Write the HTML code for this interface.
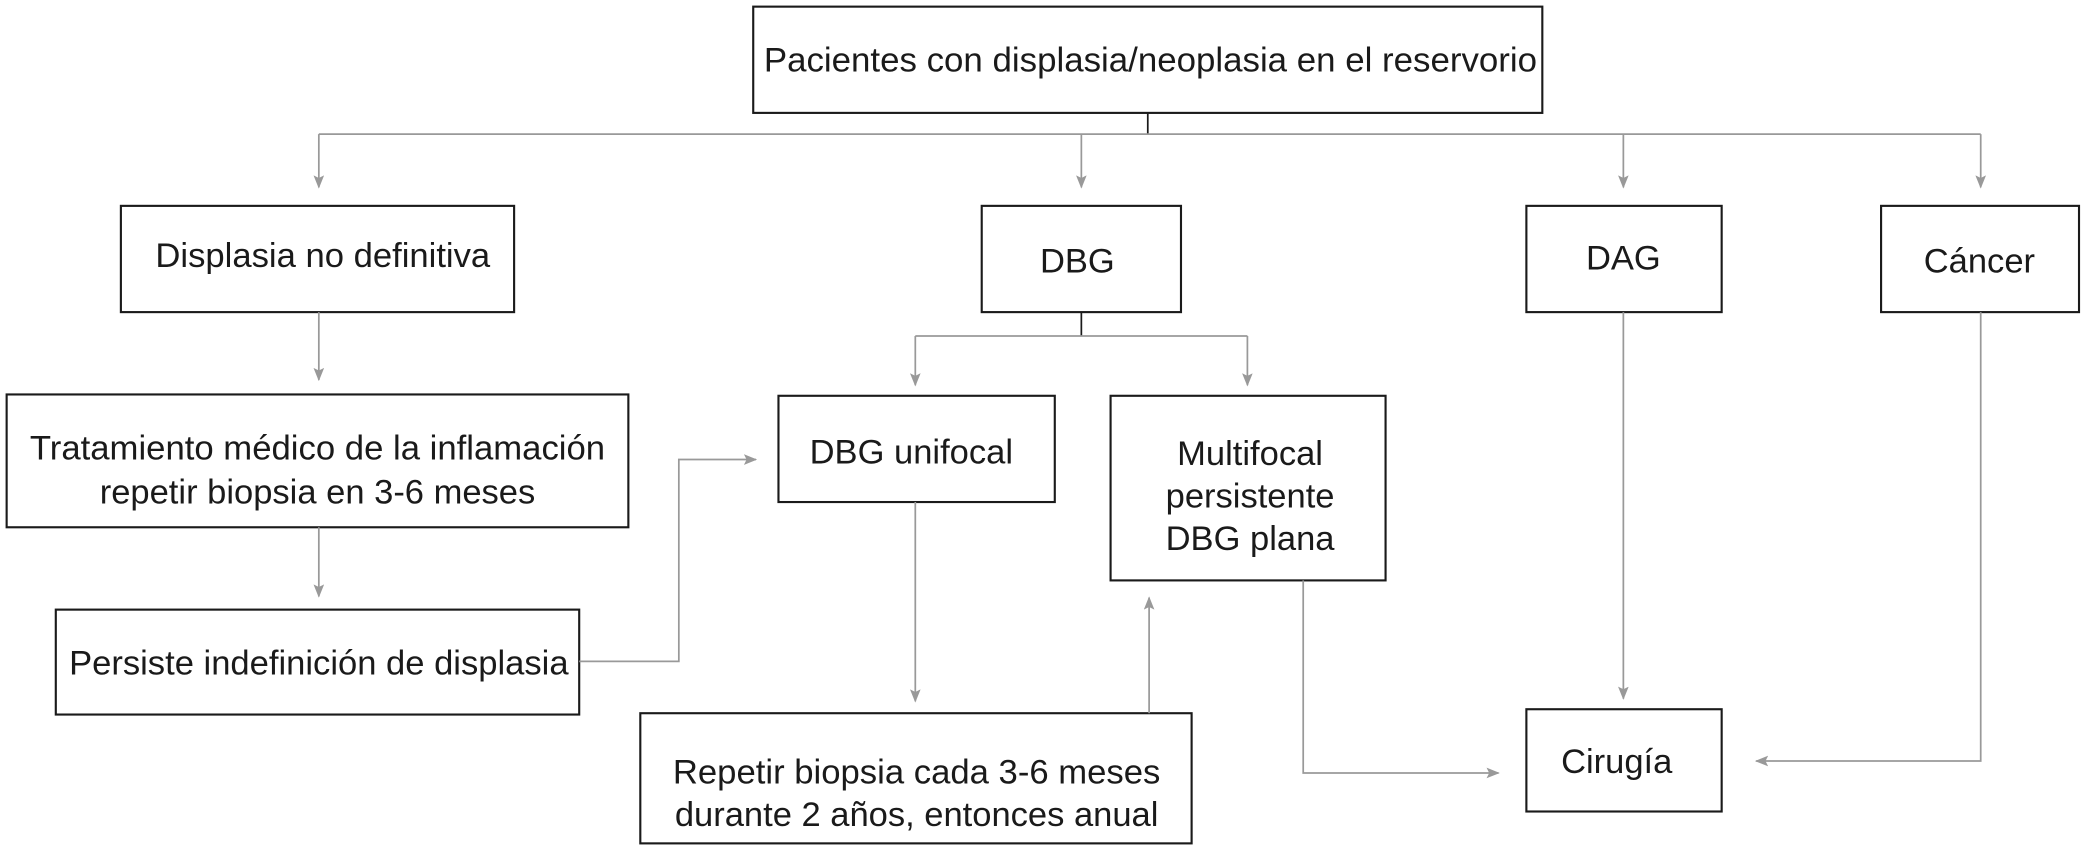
<!DOCTYPE html>
<html><head><meta charset="utf-8"><style>
html,body{margin:0;padding:0;background:#fff;}
svg{display:block;}
text{font-family:"Liberation Sans",sans-serif;font-size:26px;fill:#1a1a1a;text-anchor:middle;}
.b{fill:none;stroke:#1a1a1a;stroke-width:1.6;}
.l{fill:none;stroke:#999;stroke-width:1.3;}
.a{fill:#999;}
</style></head><body>
<svg width="2083" height="854" viewBox="0 0 1568 643" preserveAspectRatio="none">
<defs><marker id="m" markerWidth="10" markerHeight="8" refX="9" refY="4" orient="auto" markerUnits="userSpaceOnUse"><path d="M0,0 L10,4 L0,8 L2,4 Z" class="a"/></marker></defs>
<rect class="b" x="567" y="5" width="594" height="80"/>
<text x="866" y="54" textLength="582" lengthAdjust="spacingAndGlyphs">Pacientes con displasia/neoplasia en el reservorio</text>
<rect class="b" x="91" y="155" width="296" height="80"/>
<text x="243" y="201" textLength="252" lengthAdjust="spacingAndGlyphs">Displasia no definitiva</text>
<rect class="b" x="739" y="155" width="150" height="80"/>
<text x="811" y="205">DBG</text>
<rect class="b" x="1149" y="155" width="147" height="80"/>
<text x="1222" y="203">DAG</text>
<rect class="b" x="1416" y="155" width="149" height="80"/>
<text x="1490" y="205">Cáncer</text>
<rect class="b" x="5" y="297" width="468" height="100"/>
<text x="239" y="346" textLength="433" lengthAdjust="spacingAndGlyphs">Tratamiento médico de la inflamación</text>
<text x="239" y="379">repetir biopsia en 3-6 meses</text>
<rect class="b" x="42" y="459" width="394" height="79"/>
<text x="240" y="508" textLength="376" lengthAdjust="spacingAndGlyphs">Persiste indefinición de displasia</text>
<rect class="b" x="586" y="298" width="208" height="80"/>
<text x="686" y="349">DBG unifocal</text>
<rect class="b" x="836" y="298" width="207" height="139"/>
<text x="941" y="350">Multifocal</text>
<text x="941" y="382">persistente</text>
<text x="941" y="414">DBG plana</text>
<rect class="b" x="482" y="537" width="415" height="98"/>
<text x="690" y="590" textLength="367" lengthAdjust="spacingAndGlyphs">Repetir biopsia cada 3-6 meses</text>
<text x="690" y="622" textLength="364" lengthAdjust="spacingAndGlyphs">durante 2 años, entonces anual</text>
<rect class="b" x="1149" y="534" width="147" height="77"/>
<text x="1217" y="582">Cirugía</text>
<line x1="864" y1="85" x2="864" y2="101" stroke="#1a1a1a" stroke-width="1.3"/>
<polyline class="l" points="240,101 1491,101"/>
<line class="l" x1="240" y1="101" x2="240" y2="141" marker-end="url(#m)"/>
<line class="l" x1="814" y1="101" x2="814" y2="141" marker-end="url(#m)"/>
<line class="l" x1="1222" y1="101" x2="1222" y2="141" marker-end="url(#m)"/>
<line class="l" x1="1491" y1="101" x2="1491" y2="141" marker-end="url(#m)"/>
<line class="l" x1="240" y1="235" x2="240" y2="286" marker-end="url(#m)"/>
<line class="l" x1="240" y1="397" x2="240" y2="449" marker-end="url(#m)"/>
<line x1="814" y1="235" x2="814" y2="253" stroke="#1a1a1a" stroke-width="1.3"/>
<polyline class="l" points="689,253 939,253"/>
<line class="l" x1="689" y1="253" x2="689" y2="290" marker-end="url(#m)"/>
<line class="l" x1="939" y1="253" x2="939" y2="290" marker-end="url(#m)"/>
<polyline class="l" points="436,498 511,498 511,346 569,346" marker-end="url(#m)"/>
<line class="l" x1="689" y1="378" x2="689" y2="528" marker-end="url(#m)"/>
<line class="l" x1="865" y1="537" x2="865" y2="450" marker-end="url(#m)"/>
<polyline class="l" points="981,437 981,582 1128,582" marker-end="url(#m)"/>
<line class="l" x1="1222" y1="235" x2="1222" y2="526" marker-end="url(#m)"/>
<polyline class="l" points="1491,235 1491,573 1322,573" marker-end="url(#m)"/>
</svg>
</body></html>
